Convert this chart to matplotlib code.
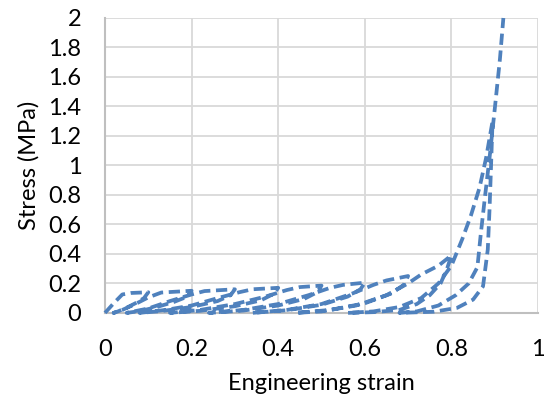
import numpy as np
import matplotlib.pyplot as plt

plt.rcParams['font.family'] = ['Lato', 'DejaVu Sans']

# cyclic loading: strain / stress (MPa) for each load-unload cycle
cyc1_e = [0, 0.02, 0.04, 0.06, 0.1, 0.09, 0.07, 0.05, 0.03, 0.02]
cyc1_s = [0, 0.065, 0.125, 0.135, 0.14, 0.1, 0.065, 0.035, 0.01, 0]
cyc2_e = [0.04, 0.07, 0.1, 0.13, 0.2, 0.19, 0.16, 0.12, 0.08, 0.05]
cyc2_s = [0.02, 0.06, 0.105, 0.138, 0.15, 0.11, 0.075, 0.04, 0.012, 0]
cyc3_e = [0.1, 0.15, 0.2, 0.23, 0.3, 0.29, 0.26, 0.2, 0.13, 0.08]
cyc3_s = [0.03, 0.08, 0.125, 0.148, 0.16, 0.12, 0.08, 0.04, 0.012, 0]
cyc4_e = [0.14, 0.2, 0.26, 0.31, 0.34, 0.4, 0.39, 0.36, 0.3, 0.22, 0.15]
cyc4_s = [0.02, 0.05, 0.1, 0.14, 0.16, 0.17, 0.13, 0.085, 0.045, 0.014, 0]
cyc5_e = [0.22, 0.3, 0.37, 0.42, 0.45, 0.5, 0.49, 0.46, 0.4, 0.32, 0.24]
cyc5_s = [0.02, 0.06, 0.11, 0.155, 0.175, 0.185, 0.14, 0.095, 0.05, 0.016, 0]
cyc6_e = [0.32, 0.4, 0.47, 0.52, 0.55, 0.6, 0.59, 0.56, 0.5, 0.42, 0.34]
cyc6_s = [0.02, 0.06, 0.12, 0.17, 0.19, 0.205, 0.16, 0.11, 0.055, 0.018, 0]
cyc7_e = [0.42, 0.5, 0.57, 0.62, 0.65, 0.7, 0.69, 0.66, 0.6, 0.52, 0.44]
cyc7_s = [0.02, 0.06, 0.13, 0.19, 0.22, 0.25, 0.19, 0.13, 0.065, 0.02, 0]
cyc8_e = [0.5, 0.58, 0.65, 0.7, 0.73, 0.77, 0.8, 0.79, 0.775, 0.75, 0.72, 0.68, 0.62, 0.56]
cyc8_s = [0.01, 0.05, 0.12, 0.2, 0.26, 0.32, 0.39, 0.3, 0.2, 0.12, 0.06, 0.02, 0.005, 0]
cyc9_e = [0.62, 0.68, 0.73, 0.77, 0.8, 0.825, 0.845, 0.865, 0.88, 0.895,
          0.891, 0.888, 0.884, 0.873, 0.85, 0.813, 0.76, 0.68]
cyc9_s = [0.01, 0.04, 0.1, 0.2, 0.32, 0.5, 0.66, 0.85, 1.05, 1.3,
          0.95, 0.7, 0.43, 0.18, 0.09, 0.034, 0.008, 0]
cyc10_e = [0.72, 0.77, 0.81, 0.84, 0.86, 0.868, 0.878, 0.888, 0.9, 0.912, 0.92]
cyc10_s = [0.01, 0.05, 0.12, 0.2, 0.31, 0.54, 0.8, 1.05, 1.38, 1.72, 2.0]

strain = np.concatenate([cyc1_e, cyc2_e, cyc3_e, cyc4_e, cyc5_e,
                         cyc6_e, cyc7_e, cyc8_e, cyc9_e, cyc10_e])
stress = np.concatenate([cyc1_s, cyc2_s, cyc3_s, cyc4_s, cyc5_s,
                         cyc6_s, cyc7_s, cyc8_s, cyc9_s, cyc10_s])

fig = plt.figure(figsize=(5.44, 4.09), dpi=100)
ax = fig.add_axes([0.193, 0.235, 0.796, 0.721])

ax.plot(strain, stress, color='#4F81BD', lw=2.7, dashes=(3.0, 1.5), clip_on=False, zorder=3)

ax.set_xlim(0, 1)
ax.set_ylim(0, 2)
ax.set_xticks(np.arange(0, 1.01, 0.2))
ax.set_yticks(np.arange(0, 2.01, 0.2))
ax.set_xticklabels(['0', '0.2', '0.4', '0.6', '0.8', '1'])
ax.set_yticklabels(['0', '0.2', '0.4', '0.6', '0.8', '1', '1.2', '1.4', '1.6', '1.8', '2'])
ax.grid(True, color='#D9D9D9', lw=1.3)
ax.set_axisbelow(True)
for s in ['top', 'right']:
    ax.spines[s].set_visible(False)
for s in ['left', 'bottom']:
    ax.spines[s].set_color('#BFBFBF')
    ax.spines[s].set_linewidth(1.5)
ax.tick_params(axis='x', length=0, labelsize=17, pad=19)
ax.tick_params(axis='y', length=0, labelsize=17, pad=17)
ax.set_xlabel('Engineering strain', fontsize=17, labelpad=9)
ax.set_ylabel('Stress (MPa)', fontsize=17, labelpad=6)

fig.savefig('out.png', dpi=100)
